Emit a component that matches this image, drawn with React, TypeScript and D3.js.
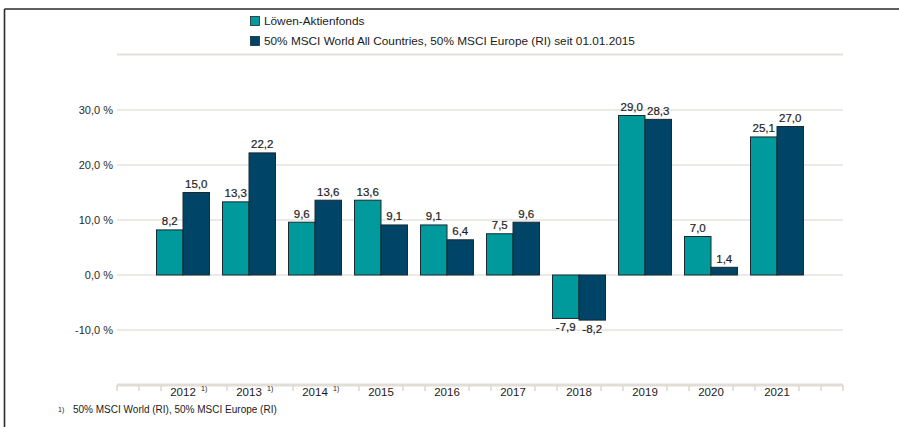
import React from "react";
import * as d3 from "d3";

const years = ["2012", "2013", "2014", "2015", "2016", "2017", "2018", "2019", "2020", "2021"];
const footnoted = ["2012", "2013", "2014"];
const fundValues = [8.2, 13.3, 9.6, 13.6, 9.1, 7.5, -7.9, 29.0, 7.0, 25.1];
const benchValues = [15.0, 22.2, 13.6, 9.1, 6.4, 9.6, -8.2, 28.3, 1.4, 27.0];
const yTicks = [-10, 0, 10, 20, 30];
const seriesNames = [
  "Löwen-Aktienfonds",
  "50% MSCI World All Countries, 50% MSCI Europe (RI) seit 01.01.2015",
];
const footnoteText = "50% MSCI World (RI), 50% MSCI Europe (RI)";

const W = 899;
const H = 427;
const FONT = "'Liberation Sans', Arial, Helvetica, sans-serif";
const TEAL = "#009a9c";
const DARK = "#004468";

export default function App() {
  const x = d3.scaleBand<string>().domain(years).range([150, 810]).padding(0);
  const y = d3.scaleLinear().domain([-10, 30]).range([330, 110]);
  const bw = 26.5;
  const fmt = (v: number) => v.toFixed(1).replace(".", ",");
  const series = [fundValues, benchValues];
  const colors = [TEAL, DARK];

  const axisLeft = 117;
  const axisRight = 843;
  const axisY = 385;
  const tickStep = x.bandwidth() / 3;
  const ticks: number[] = [];
  for (let t = axisLeft; t <= axisRight + 0.5; t += tickStep) {
    const near = years.some((yr) => {
      const c = (x(yr) as number) + x.bandwidth() / 2;
      const right = footnoted.includes(yr) ? 26 : 15;
      return t > c - 15 && t < c + right;
    });
    if (!near) ticks.push(t);
  }

  return (
    <svg
      width={W}
      height={H}
      style={{ position: "absolute", left: 0, top: 0, background: "#fff" }}
      fontFamily={FONT}
    >
      {/* frame */}
      <line x1={4.5} y1={9} x2={W} y2={9} stroke="#2a2a2a" strokeWidth={1.6} />
      <line x1={4.5} y1={9} x2={4.5} y2={H} stroke="#2a2a2a" strokeWidth={1.6} />

      {/* legend */}
      {seriesNames.map((n, i) => (
        <g key={n} transform={`translate(250, ${16 + i * 20})`}>
          <rect x={0.5} y={0.5} width={9} height={9} fill={colors[i]} stroke="#1a2a30" strokeWidth={0.8} />
          <text x={14} y={9} fontSize={11.8} fill="#1a1a1a">
            {n}
          </text>
        </g>
      ))}

      {/* top separator */}
      <line x1={axisLeft} x2={axisRight} y1={54.5} y2={54.5} stroke="#e4e1da" strokeWidth={2} />

      {/* gridlines and y labels */}
      {yTicks.map((t) => (
        <g key={t}>
          <line x1={axisLeft} x2={axisRight} y1={y(t)} y2={y(t)} stroke="#d9d5cd" strokeWidth={1.2} />
          <text x={113} y={y(t)} dy="0.35em" textAnchor="end" fontSize={11} fill="#2a2a2a">
            {fmt(t)} %
          </text>
        </g>
      ))}

      {/* bars */}
      {years.map((yr, i) => {
        const c = (x(yr) as number) + x.bandwidth() / 2;
        return (
          <g key={yr}>
            {series.map((s, j) => {
              const v = s[i];
              const bx = c - bw + j * bw;
              const top = y(Math.max(0, v));
              const h = Math.abs(y(v) - y(0));
              return (
                <g key={j}>
                  <rect x={bx} y={top} width={bw} height={h} fill={colors[j]} stroke="#1a2a30" strokeWidth={1} />
                  <text
                    x={bx + bw / 2}
                    y={v >= 0 ? y(v) - 4.5 : y(v) + 13}
                    textAnchor="middle"
                    fontSize={11.5}
                    fill="#1e1e1e"
                    stroke="#1e1e1e"
                    strokeWidth={0.2}
                  >
                    {fmt(v)}
                  </text>
                </g>
              );
            })}
          </g>
        );
      })}

      {/* bottom axis */}
      <line x1={axisLeft} x2={axisRight} y1={axisY} y2={axisY} stroke="#e2ded6" strokeWidth={3} />
      {ticks.map((t, i) => (
        <line key={i} x1={t} x2={t} y1={axisY} y2={axisY + 6} stroke="#dcd8d0" strokeWidth={1.5} />
      ))}
      {years.map((yr) => {
        const c = (x(yr) as number) + x.bandwidth() / 2;
        return (
          <g key={yr}>
            <text x={c} y={396} textAnchor="middle" fontSize={11.5} fill="#1a1a1a">
              {yr}
            </text>
            {footnoted.includes(yr) && (
              <text x={c + 18} y={391} fontSize={7} fill="#1a1a1a">
                1)
              </text>
            )}
          </g>
        );
      })}

      {/* footnote */}
      <text x={58} y={412} fontSize={7} fill="#1a1a1a">
        1)
      </text>
      <text x={73} y={413} fontSize={10} fill="#1a1a1a">
        {footnoteText}
      </text>
    </svg>
  );
}
